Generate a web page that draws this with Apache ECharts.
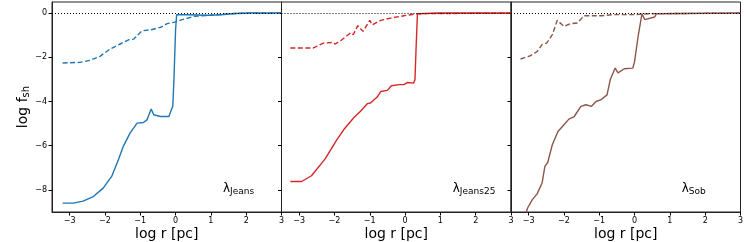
<!DOCTYPE html>
<html><head><meta charset="utf-8">
<script src="https://cdn.jsdelivr.net/npm/echarts@6/dist/echarts.min.js"></script>
<style>html,body{margin:0;padding:0;background:#fff}#c{width:747px;height:242px}</style>
</head><body><div id="c"></div>
<script>
// Panel 1: lambda_Jeans (blue)
const jeansSolidX = [-3.2,-2.9,-2.62,-2.33,-2.05,-1.81,-1.62,-1.48,-1.29,-1.09,-0.91,-0.81,-0.69,-0.62,-0.43,-0.19,-0.14,-0.08,-0.05,0.0,0.03,0.33,0.9,1.29,1.67,2.05,3.0];
const jeansSolidY = [-8.6,-8.6,-8.51,-8.3,-7.92,-7.39,-6.64,-6.03,-5.43,-4.98,-4.95,-4.83,-4.34,-4.6,-4.68,-4.68,-4.6,-4.22,-3.17,-0.75,-0.08,-0.08,-0.1,-0.08,-0.02,0,0];
const jeansDashX = [-3.2,-2.71,-2.43,-2.14,-1.86,-1.57,-1.33,-1.19,-0.95,-0.71,-0.43,-0.24,-0.05,0.19,0.52,1.0,1.48,2.05,3.0];
const jeansDashY = [-2.26,-2.23,-2.14,-1.96,-1.63,-1.4,-1.21,-1.18,-0.8,-0.76,-0.65,-0.48,-0.42,-0.3,-0.15,-0.1,-0.04,0,0];
// Panel 2: lambda_Jeans25 (red)
const j25SolidX = [-3.25,-2.93,-2.65,-2.27,-1.93,-1.74,-1.46,-1.27,-1.07,-0.98,-0.79,-0.69,-0.5,-0.39,-0.17,-0.03,0.07,0.24,0.28,0.31,0.35,0.93,3.0];
const j25SolidY = [-7.62,-7.62,-7.36,-6.61,-5.73,-5.28,-4.75,-4.45,-4.1,-4.07,-3.8,-3.55,-3.5,-3.29,-3.24,-3.24,-3.14,-3.17,-3.02,-1.66,-0.03,0,0];
const j25DashX = [-3.25,-2.6,-2.31,-2.07,-1.98,-1.79,-1.55,-1.47,-1.34,-1.19,-1.0,-0.93,-0.69,-0.41,-0.03,0.35,3.0];
const j25DashY = [-1.58,-1.58,-1.36,-1.33,-1.4,-1.21,-0.9,-0.98,-0.57,-0.83,-0.33,-0.53,-0.33,-0.23,-0.12,-0.03,0];
// Panel 3: lambda_Sob (brown)
const sobSolidX = [-3.07,-3.03,-2.9,-2.76,-2.62,-2.54,-2.46,-2.33,-2.17,-2.0,-1.86,-1.71,-1.52,-1.38,-1.22,-1.09,-0.95,-0.78,-0.69,-0.55,-0.47,-0.29,-0.05,0.0,0.1,0.21,0.29,0.57,0.62,3.0];
const sobSolidY = [-9.02,-8.82,-8.45,-8.18,-7.69,-6.94,-6.76,-5.96,-5.36,-5.05,-4.8,-4.68,-4.22,-4.15,-4.22,-4.0,-3.92,-3.7,-3.02,-2.49,-2.71,-2.52,-2.49,-2.19,-1.06,-0.03,-0.3,-0.18,-0.03,0];
const sobDashX = [-3.23,-2.95,-2.76,-2.62,-2.49,-2.33,-2.19,-2.0,-1.81,-1.62,-1.43,-0.95,-0.57,0.0,0.38,3.0];
const sobDashY = [-2.08,-1.93,-1.74,-1.43,-1.36,-0.98,-0.33,-0.6,-0.48,-0.45,-0.12,-0.12,-0.07,-0.07,-0.03,0];

const xTicks = [-3,-2,-1,0,1,2,3];
const yTicks = [-8,-6,-4,-2,0];
const panelLabels = [['λ','Jeans'],['λ','Jeans25'],['λ','Sob']];
const colors = ['#1f77b4','#d62728','#8c564b'];

const zip = (a,b) => a.map((v,i)=>[v,b[i]]);
const panels = [
  [zip(jeansSolidX,jeansSolidY), zip(jeansDashX,jeansDashY)],
  [zip(j25SolidX,j25SolidY), zip(j25DashX,j25DashY)],
  [zip(sobSolidX,sobSolidY), zip(sobDashX,sobDashY)]
];

const F = 'DejaVu Sans';
const lefts = [52, 281.5, 511];
const W = 229.5;
const grids = lefts.map(l => ({left:l, width:W, top:2, height:210, show:true, borderColor:'#222', borderWidth:1, backgroundColor:'transparent', containLabel:false, outerBoundsMode:'none'}));
const fmt = v => (v<0 ? '\u2212'+Math.abs(v) : ''+v);
const xAxes = lefts.map((l,i) => ({
  type:'value', gridIndex:i, min:-3.5, max:3,
  axisLine:{show:true, onZero:false, lineStyle:{color:'#222', width:1}},
  axisTick:{show:true, customValues:xTicks, length:3.5, lineStyle:{color:'#000'}},
  axisLabel:{show:true, customValues:xTicks, formatter:fmt, fontFamily:F, fontSize:8, color:'#000', margin:5},
  splitLine:{show:false},
  name:'log r [pc]', nameLocation:'middle', nameGap:15, nameMoveOverlap:false,
  nameTextStyle:{fontFamily:F, fontSize:14, color:'#000', verticalAlign:'top'}
}));
const yAxes = lefts.map((l,i) => ({
  type:'value', gridIndex:i, min:-9, max:0.5,
  axisLine:{show:true, onZero:false, lineStyle:{color:'#222', width:1}},
  axisTick:{show:true, customValues:yTicks, length:3.5, lineStyle:{color:'#000'}},
  axisLabel:{show:i===0, customValues:yTicks, formatter:fmt, fontFamily:F, fontSize:8, color:'#000', margin:5},
  splitLine:{show:false},
  name: i===0 ? '{a|log f}{b|sh}' : '', nameLocation:'middle', nameGap:21, nameRotate:90, nameMoveOverlap:false,
  nameTextStyle:{rich:{a:{fontFamily:F, fontSize:14, color:'#000'}, b:{fontFamily:F, fontSize:10, color:'#000', verticalAlign:'bottom', padding:[6,0,0,0]}}}
}));
const series = [];
panels.forEach((p,i) => {
  series.push({type:'line', xAxisIndex:i, yAxisIndex:i, data:p[1], showSymbol:false, symbol:'none',
    lineStyle:{color:colors[i], width:1.4, type:[5,2.5]}, z:3});
  series.push({type:'line', xAxisIndex:i, yAxisIndex:i, data:p[0], showSymbol:false, symbol:'none',
    lineStyle:{color:colors[i], width:1.4}, z:3,
    markLine:{silent:true, symbol:'none', label:{show:false}, lineStyle:{color:'#000', type:[1,2], width:1.2}, data:[{yAxis:0}]}});
});
const labelX = [223, 452.7, 681.7];
const graphic = panelLabels.map((t,i) => ({
  type:'text', left:labelX[i], top:183,
  style:{text:'{a|'+t[0]+'}{b|'+t[1]+'}', rich:{a:{fontFamily:F, fontSize:12, fill:'#000'}, b:{fontFamily:F, fontSize:9, fill:'#000', padding:[6,0,0,0]}}}
}));
const chart = echarts.init(document.getElementById('c'), null, {renderer:'canvas'});
chart.setOption({animation:false, grid:grids, xAxis:xAxes, yAxis:yAxes, series:series, graphic:graphic});
</script></body></html>
